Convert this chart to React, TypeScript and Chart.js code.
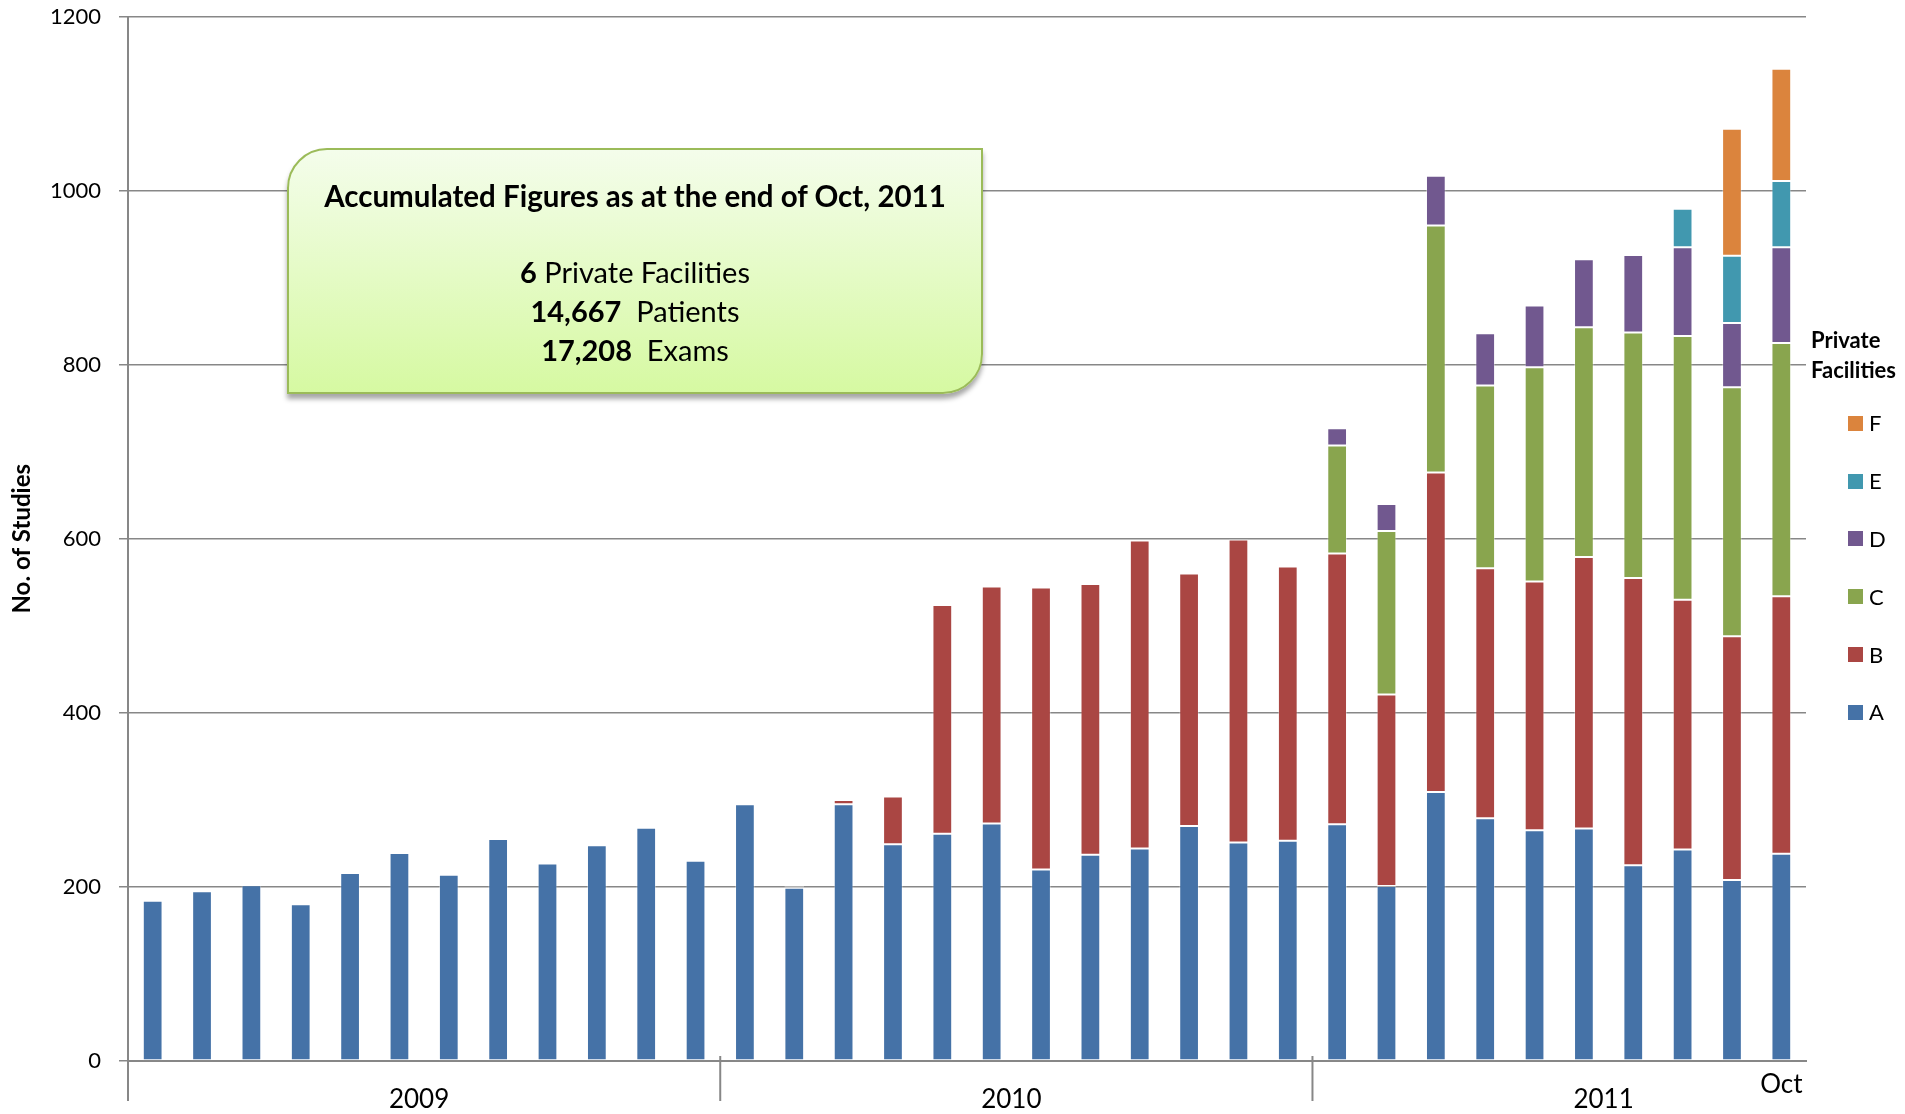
import React, { useEffect, useRef } from 'react';
import { Chart, registerables } from 'chart.js';

Chart.register(...registerables);

// ---------- data ----------
const monthLabels = [
  'Jan', 'Feb', 'Mar', 'Apr', 'May', 'Jun', 'Jul', 'Aug', 'Sep', 'Oct', 'Nov', 'Dec',
  'Jan', 'Feb', 'Mar', 'Apr', 'May', 'Jun', 'Jul', 'Aug', 'Sep', 'Oct', 'Nov', 'Dec',
  'Jan', 'Feb', 'Mar', 'Apr', 'May', 'Jun', 'Jul', 'Aug', 'Sep', 'Oct',
];
const years = ['2009', '2010', '2011'];
const monthsPerYear = [12, 12, 10];
const monthsInFullYear = 12;

const facilityA = [
  184, 195, 202, 180, 216, 239, 214, 255, 227, 248, 268, 230,
  295, 199, 295, 249, 261, 273, 220, 237, 244, 270, 251, 253,
  272, 201, 309, 279, 265, 267, 225, 243, 208, 238,
];
const facilityB = [
  null, null, null, null, null, null, null, null, null, null, null, null,
  null, 2, 5, 55, 263, 272, 324, 311, 354, 290, 348, 315,
  311, 220, 367, 287, 286, 312, 330, 287, 280, 296,
];
const facilityC = [
  null, null, null, null, null, null, null, null, null, null, null, null,
  null, null, null, null, null, null, null, null, null, null, null, null,
  124, 188, 284, 210, 246, 264, 282, 303, 286, 291,
];
const facilityD = [
  null, null, null, null, null, null, null, null, null, null, null, null,
  null, null, null, null, null, null, null, null, null, null, null, null,
  20, 31, 57, 60, 71, 78, 89, 102, 74, 110,
];
const facilityE = [
  null, null, null, null, null, null, null, null, null, null, null, null,
  null, null, null, null, null, null, null, null, null, null, null, null,
  null, null, null, null, null, null, null, 44, 77, 76,
];
const facilityF = [
  null, null, null, null, null, null, null, null, null, null, null, null,
  null, null, null, null, null, null, null, null, null, null, null, null,
  null, null, null, null, null, null, null, null, 146, 129,
];

const seriesNames = ['A', 'B', 'C', 'D', 'E', 'F'];
const seriesValues = [facilityA, facilityB, facilityC, facilityD, facilityE, facilityF];
const seriesColors = ['#4572A7', '#AA4643', '#89A54E', '#71588F', '#4198AF', '#DB843D'];

const yMin = 0;
const yMax = 1200;
const yStep = 200;
const yAxisTitle = 'No. of Studies';
const legendTitle = ['Private', 'Facilities'];

const calloutTitle = 'Accumulated Figures as at the end of Oct, 2011';
const calloutNumbers = ['6', '14,667', '17,208'];
const calloutTexts = [' Private Facilities', '  Patients', '  Exams'];

const FONT = 'Lato, "Open Sans", sans-serif';
const AXIS_GRAY = '#878787';

const yearAxisPlugin = {
  id: 'yearAxis',
  afterDraw(chart: any) {
    const x = chart.scales.x;
    const area = chart.chartArea;
    const ctx = chart.ctx;
    const step = x.getPixelForValue(1) - x.getPixelForValue(0);
    ctx.save();
    ctx.strokeStyle = AXIS_GRAY;
    ctx.lineWidth = 2;
    ctx.fillStyle = '#000';
    ctx.font = '26px ' + FONT;
    ctx.textAlign = 'center';
    ctx.textBaseline = 'middle';
    let start = 0;
    years.forEach((yr, i) => {
      const sep = x.getPixelForValue(start) - step / 2;
      ctx.beginPath();
      ctx.moveTo(sep, area.bottom - 5);
      ctx.lineTo(sep, area.bottom + 40);
      ctx.stroke();
      ctx.fillText(yr, sep + (monthsInFullYear / 2) * step - 5, area.bottom + 39);
      start += monthsPerYear[i];
    });
    ctx.restore();
  },
};

export default function App() {
  const canvasRef = useRef<HTMLCanvasElement | null>(null);

  useEffect(() => {
    document.body.style.margin = '0';
    const canvas = canvasRef.current;
    if (!canvas) return;
    const chart = new Chart(canvas, {
      type: 'bar',
      data: {
        labels: monthLabels,
        datasets: seriesNames.map((name, i) => ({
          label: name,
          data: seriesValues[i] as any,
          backgroundColor: seriesColors[i],
          borderColor: 'rgba(255,255,255,0.35)',
          borderWidth: 1,
          borderSkipped: false,
          categoryPercentage: 0.4,
          barPercentage: 1,
        })),
      },
      options: {
        responsive: false,
        animation: false,
        layout: { padding: { left: 0, right: 99, top: 16.5, bottom: 0 } },
        plugins: {
          legend: { display: false },
          tooltip: { enabled: false },
        },
        scales: {
          x: {
            stacked: true,
            grid: { display: false, drawTicks: false },
            border: { display: true, color: AXIS_GRAY, width: 2 },
            ticks: {
              autoSkip: false,
              maxRotation: 0,
              minRotation: 0,
              padding: 8,
              color: '#000',
              font: { family: FONT, size: 26 },
              callback: (_v: any, idx: number) => (idx === monthLabels.length - 1 ? monthLabels[idx] : ''),
            },
            afterFit: (s: any) => {
              s.height = 53;
            },
          },
          y: {
            stacked: true,
            min: yMin,
            max: yMax,
            ticks: {
              stepSize: yStep,
              padding: 18,
              color: '#000',
              font: { family: FONT, size: 22 },
              callback: (v: any) => String(v),
            },
            grid: { color: AXIS_GRAY, lineWidth: 1.5, drawTicks: true, tickLength: 9 },
            border: { display: true, color: AXIS_GRAY, width: 2 },
            title: {
              display: true,
              text: yAxisTitle,
              color: '#000',
              font: { family: FONT, size: 24, weight: 'bold' },
              padding: { top: 8, bottom: 0 },
            },
            afterFit: (s: any) => {
              s.width = 128;
              s.paddingTop = 0;
              s.paddingBottom = 0;
            },
          },
        },
      },
      plugins: [yearAxisPlugin],
    } as any);
    return () => chart.destroy();
  }, []);

  const legendOrder = seriesNames.map((n, i) => ({ n, c: seriesColors[i] })).reverse();

  return (
    <div style={{ position: 'absolute', left: 0, top: 0, width: 1905, height: 1114, background: '#fff', fontFamily: FONT }}>
      <canvas ref={canvasRef} width={1905} height={1114} style={{ position: 'absolute', left: 0, top: 0, width: 1905, height: 1114 }} />

      {/* callout */}
      <div
        style={{
          position: 'absolute',
          left: 287,
          top: 148,
          width: 696,
          height: 246,
          boxSizing: 'border-box',
          border: '2px solid #9BBB59',
          borderRadius: '40px 0 40px 0',
          background: 'linear-gradient(#F4FDEB, #D6F9A2)',
          boxShadow: '0 5px 5px rgba(0,0,0,0.35)',
          color: '#000',
        }}
      >
        <div style={{ position: 'absolute', left: 0, right: 0, top: 45.5 - 20, height: 40, lineHeight: '40px', textAlign: 'center', fontWeight: 'bold', fontSize: 29.5, whiteSpace: 'nowrap' }}>
          {calloutTitle}
        </div>
        {calloutNumbers.map((num, i) => (
          <div
            key={i}
            style={{
              position: 'absolute',
              left: 0,
              right: 0,
              top: [121.7, 161, 200][i] - 20,
              height: 40,
              lineHeight: '40px',
              textAlign: 'center',
              fontSize: 29,
              whiteSpace: 'pre',
            }}
          >
            <b>{num}</b>
            {calloutTexts[i]}
          </div>
        ))}
      </div>

      {/* legend */}
      <div style={{ position: 'absolute', left: 1811, top: 325, fontWeight: 'bold', fontSize: 22, lineHeight: '30px', color: '#000' }}>
        {legendTitle.map((t, i) => (
          <div key={i}>{t}</div>
        ))}
      </div>
      {legendOrder.map((it, i) => (
        <div key={it.n} style={{ position: 'absolute', left: 1848, top: 423.3 + i * 57.8 - 15, height: 30, display: 'flex', alignItems: 'center' }}>
          <div style={{ width: 15, height: 15, background: it.c }} />
          <div style={{ marginLeft: 6, fontSize: 22, lineHeight: '30px', color: '#000' }}>{it.n}</div>
        </div>
      ))}
    </div>
  );
}
